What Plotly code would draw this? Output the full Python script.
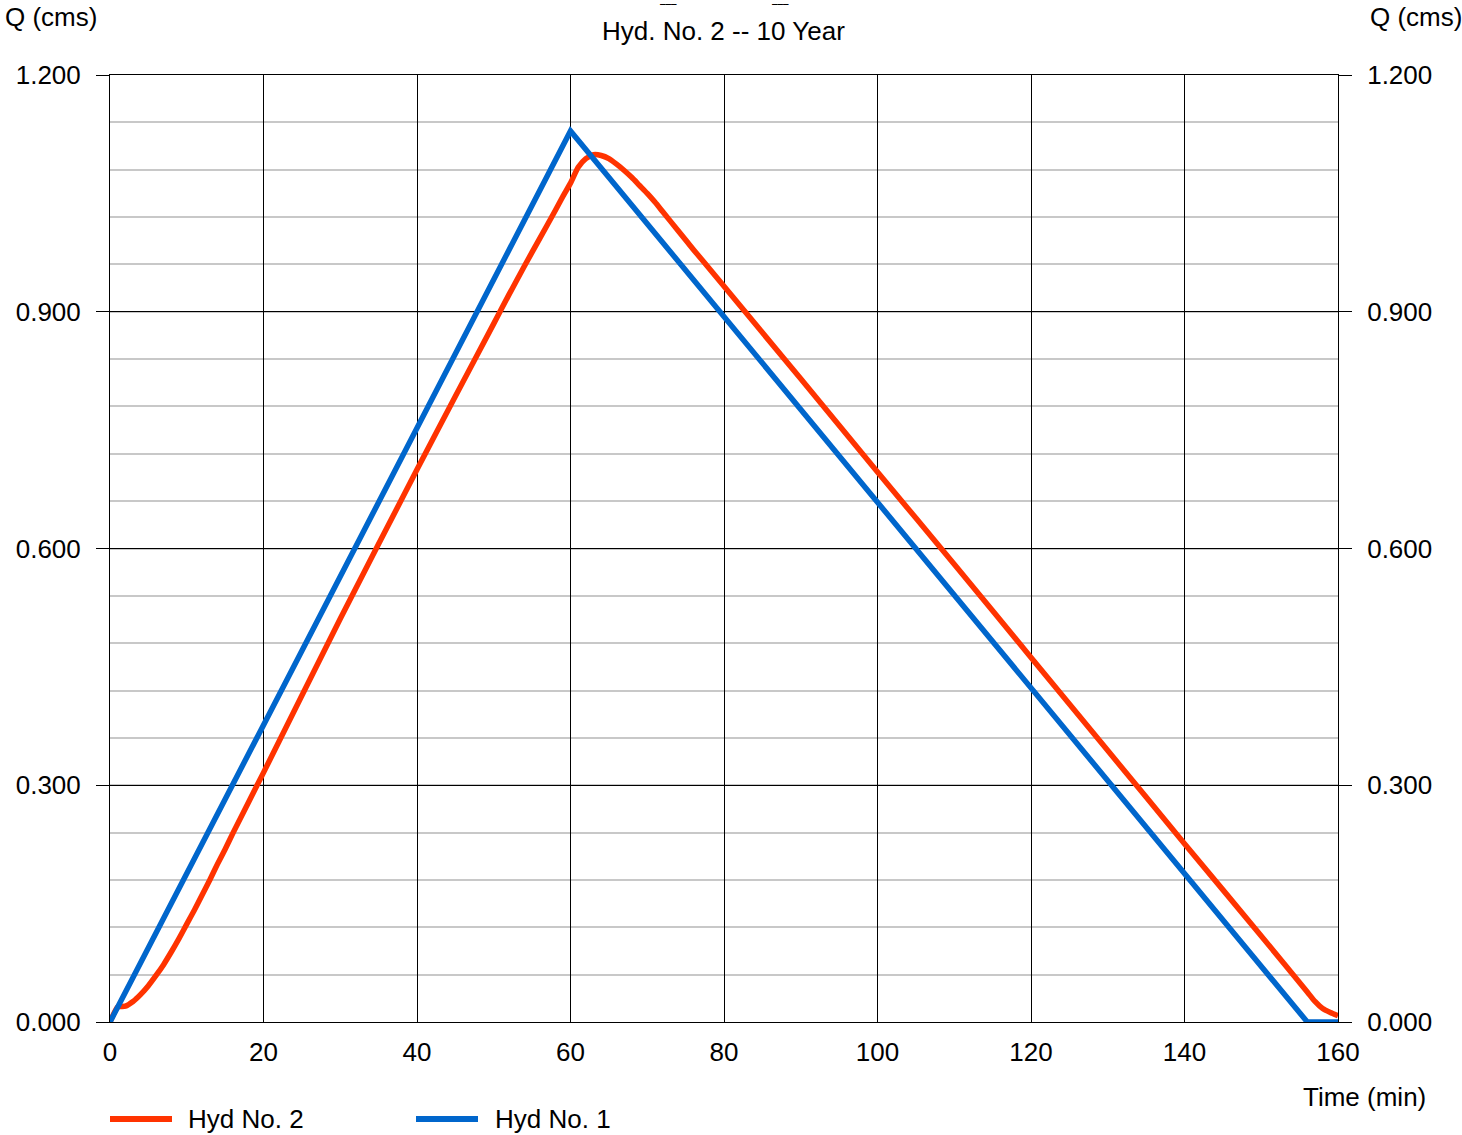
import plotly.graph_objects as go

# Inflow hydrograph (Hyd No. 1): rational-method triangle
hyd1_time = [0, 60, 156, 160]
hyd1_q = [0.0, 1.129, 0.0, 0.0]

# Routed hydrograph (Hyd No. 2)
hyd2_time = [0, 1, 2, 3, 4, 5, 6, 7, 8, 9, 10, 11, 12, 13, 14, 15, 16, 20,
             30, 40, 45, 50, 52, 54, 56, 58, 59, 60, 61, 62, 63, 64, 65, 66,
             67, 68, 69, 70, 71, 72, 74, 76, 79, 90, 100, 110, 120, 130, 140,
             150, 156, 157, 158, 159, 160]
hyd2_q = [0.0, 0.019, 0.020, 0.026, 0.035, 0.046, 0.059, 0.073, 0.089, 0.106,
          0.124, 0.142, 0.161, 0.180, 0.200, 0.219, 0.239, 0.316,
          0.511, 0.700, 0.793, 0.885, 0.922, 0.958, 0.993, 1.028, 1.046,
          1.063, 1.083, 1.094, 1.099, 1.098, 1.094, 1.087,
          1.079, 1.070, 1.060, 1.050, 1.039, 1.027, 1.003, 0.979, 0.944,
          0.815, 0.697, 0.580, 0.462, 0.344, 0.226, 0.109, 0.038, 0.026,
          0.017, 0.012, 0.008]

x_ticks = [0, 20, 40, 60, 80, 100, 120, 140, 160]
y_ticks = [0.0, 0.3, 0.6, 0.9, 1.2]

title_text = "Hyd. No. 2 -- 10 Year"
y_title = "Q (cms)"
x_title = "Time (min)"
legend_labels = ["Hyd No. 2", "Hyd No. 1"]

RED = "#FF3300"
BLUE = "#0066CC"
FONT = "Liberation Sans, Arial, sans-serif"
FS = 26

W, H = 1462, 1135
L, R, T, B = 110, 124, 75, 113
PW, PH = W - L - R, H - T - B


def px(x):
    return (x - L) / PW


def py(y):
    return (H - B - y) / PH


fig = go.Figure()
fig.add_trace(go.Scatter(x=hyd2_time, y=hyd2_q, mode="lines",
                         line=dict(color=RED, width=5.5, shape="spline",
                                   smoothing=0.5),
                         name=legend_labels[0], showlegend=False))
fig.add_trace(go.Scatter(x=hyd1_time, y=hyd1_q, mode="lines",
                         line=dict(color=BLUE, width=5.5), name=legend_labels[1],
                         showlegend=False))
# right-hand axis mirrors the left one
fig.add_trace(go.Scatter(x=hyd1_time, y=hyd1_q, mode="lines", yaxis="y2",
                         line=dict(color=BLUE, width=5), opacity=0,
                         hoverinfo="skip", showlegend=False))

yax_common = dict(
    range=[0, 1.2], tickvals=y_ticks, tickformat=".3f",
    ticks="outside", ticklen=13, tickcolor="black", tickwidth=1,
    showgrid=True, gridcolor="black", gridwidth=1,
    zeroline=False, showline=True, linecolor="black", linewidth=1,
    tickfont=dict(family=FONT, size=FS, color="black"),
    ticklabelstandoff=10,
)

fig.update_layout(
    width=W, height=H,
    margin=dict(l=L, r=R, t=T, b=B, pad=0),
    plot_bgcolor="white", paper_bgcolor="white",
    font=dict(family=FONT, size=FS, color="black"),
    xaxis=dict(range=[0, 160], tickvals=x_ticks, ticks="", showgrid=True,
               gridcolor="black", gridwidth=1, zeroline=False,
               showline=True, mirror=True, linecolor="black", linewidth=1,
               tickfont=dict(family=FONT, size=FS, color="black"),
               ticklabelstandoff=7),
    yaxis=dict(**yax_common,
               minor=dict(dtick=0.06, showgrid=True, gridcolor="#C8C8C8",
                          gridwidth=2, ticks="")),
    yaxis2=dict(**yax_common, overlaying="y", side="right", matches="y"),
)

annotations = [
    dict(text=title_text, x=px(723), y=py(31)),
    dict(text=y_title, x=px(51), y=py(17)),
    dict(text=y_title, x=px(1416), y=py(17)),
    dict(text=x_title, x=px(1364), y=py(1097)),
    dict(text=legend_labels[0], x=px(186), y=py(1119), xanchor="left"),
    dict(text=legend_labels[1], x=px(493), y=py(1119), xanchor="left"),
]
for a in annotations:
    a.setdefault("xanchor", "center")
    fig.add_annotation(xref="paper", yref="paper", showarrow=False,
                       yanchor="middle", font=dict(family=FONT, size=FS,
                                                   color="black"), **a)

# two short bars along the top edge
for xc in (668, 780):
    fig.add_annotation(xref="paper", yref="paper", showarrow=False,
                       text="\u203e\u203e\u203e", x=px(xc), y=py(0),
                       xanchor="center", yanchor="top",
                       font=dict(family="DejaVu Sans", size=11, color="black",
                                 weight="bold"))

# legend keys
for (x0, x1, col) in [(110, 172, RED), (416, 478, BLUE)]:
    fig.add_shape(type="line", xref="paper", yref="paper",
                  x0=px(x0), x1=px(x1), y0=py(1119), y1=py(1119),
                  line=dict(color=col, width=6))

fig.write_html("out.html")
